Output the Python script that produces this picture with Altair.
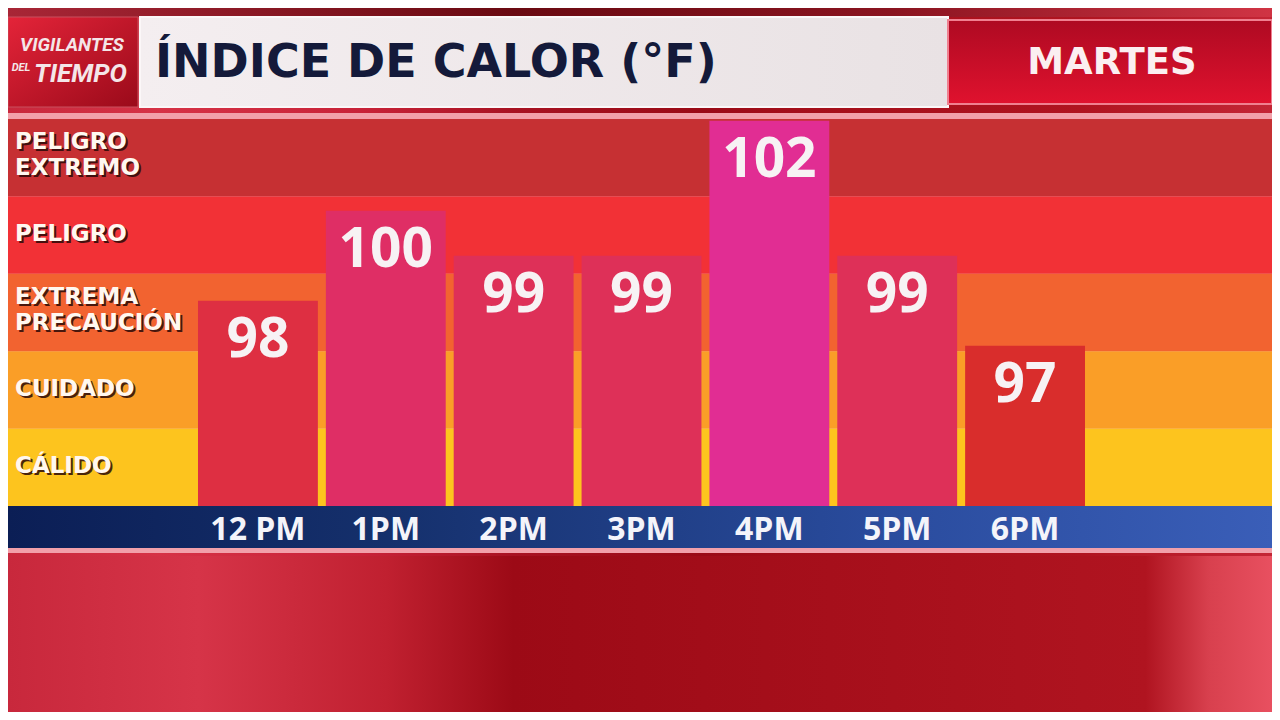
import altair as alt
import pandas as pd

# ---- data ----
hours = ["12 PM", "1PM", "2PM", "3PM", "4PM", "5PM", "6PM"]
values = [98, 100, 99, 99, 102, 99, 97]
categories = ["PELIGRO\nEXTREMO", "PELIGRO", "EXTREMA\nPRECAUCIÓN", "CUIDADO", "CÁLIDO"]
title_text = "ÍNDICE DE CALOR (°F)"
day_text = "MARTES"

# ---- styles ----
band_colors = ["#C63033", "#F23136", "#F26330", "#FA9E27", "#FDC41E"]
bar_color_domain = [97, 98, 99, 100, 102]
bar_color_range = ["#D92D2C", "#DE2F42", "#DE3058", "#DF2E65", "#E12D93"]
W, H = 1264, 387
Y_DOMAIN = [93.44, 102.04]
NUM_FONT = "Open Sans"
LBL_FONT = "DejaVu Sans"

bars_df = pd.DataFrame({"hour": hours, "value": values})
cats_df = pd.DataFrame({"cat": categories})
one = pd.DataFrame({"a": [0]})


def grad(stops, x1=0, y1=0, x2=1, y2=0):
    return {"gradient": "linear", "x1": x1, "y1": y1, "x2": x2, "y2": y2,
            "stops": [{"offset": o, "color": c} for o, c in stops]}


def box(x, x2, y, y2, **mk):
    return alt.Chart(one).mark_rect(**mk).encode(
        x=alt.value(x), x2=alt.value(x2), y=alt.value(y), y2=alt.value(y2))


def label(txt, x, y, **mk):
    return alt.Chart(one).mark_text(text=txt, **mk).encode(x=alt.value(x), y=alt.value(y))


# ---- background & header decorations ----
bg = box(0, W, -111, H + 206, color=grad([
    (0, "#C8283C"), (0.12, "#D63246"), (0.28, "#C82238"), (0.4, "#A81222"), (0.55, "#9A0A16"),
    (0.62, "#A40E1A"), (0.85, "#B01420"), (1, "#C42636")]))
bg_low = box(0, W, H + 50, H + 206, color=grad([
    (0, "#C8283C"), (0.15, "#D63448"), (0.3, "#C02030"), (0.4, "#9C0A16"),
    (0.6, "#A40E1A"), (0.9, "#B01420"), (0.95, "#D8404E"), (1, "#E85060")]))
top_strip = box(0, W, -111, -102, color=grad([
    (0, "#A82636"), (0.4, "#6A0A12"), (0.7, "#8A1420"), (1, "#D03444")]))
logo_box = box(0, 130, -102, -12, color=grad([(0, "#E42439"), (1, "#9A0A1A")], 0, 0, 1, 1),
               stroke="#C8505E", strokeWidth=1)
logo1 = label("VIGILANTES", 64, -74, font="Roboto", fontSize=19, fontWeight="bold",
              fontStyle="italic", color="#F4E6E8", align="center", baseline="middle")
logo2 = label("DEL", 13, -51, font="Roboto", fontSize=11, fontWeight="bold",
              fontStyle="italic", color="#F4E6E8", align="center", baseline="middle")
logo3 = label("TIEMPO", 26, -45, font="Roboto", fontSize=26, fontWeight="bold",
              fontStyle="italic", color="#F4E6E8", align="left", baseline="middle")
title_box = box(132, 940, -102, -12, color=grad([(0, "#F4EEF0"), (1, "#E9E2E4")]),
                stroke="#FBF7F8", strokeWidth=2)
title = label(title_text, 147, -56, font=LBL_FONT, fontSize=46, fontWeight="bold",
              color="#141A3A", align="left", baseline="middle")
day_box = box(940, W, -99, -15, color=grad([(0, "#AE0A22"), (1, "#E0122E")], 0, 0, 0, 1),
              stroke="#F08090", strokeWidth=2)
day = label(day_text, 1104, -56, font=LBL_FONT, fontSize=37, fontWeight="bold",
            color="#FBEFF1", align="center", baseline="middle")

panel_border = box(0, W, -6, H + 47, color="#F2A0AA")

# ---- category bands ----
band_y = alt.Y("cat:N", sort=categories, axis=None,
               scale=alt.Scale(domain=categories, paddingInner=0, paddingOuter=0))
bands = alt.Chart(cats_df).mark_rect().encode(
    y=band_y, x=alt.value(0), x2=alt.value(W),
    color=alt.Color("cat:N", scale=alt.Scale(domain=categories, range=band_colors), legend=None))


def band_label(color, shift, multi, **mk):
    cond = "indexof(datum.cat, '\\n') >= 0"
    return alt.Chart(cats_df).transform_filter(cond if multi else "!(" + cond + ")").mark_text(
        font=LBL_FONT, fontSize=23, fontWeight="bold", color=color,
        align="left", baseline="middle", lineBreak="\n", lineHeight=26,
        dx=shift, dy=shift + (-16 if multi else -1), **mk
    ).encode(y=band_y, x=alt.value(7), text="cat:N")


band_labels = [
    band_label("#2A0A08", 2, True, opacity=0.85),
    band_label("#2A0A08", 2, False, opacity=0.85),
    band_label("#FFF8F0", 0, True),
    band_label("#FFF8F0", 0, False),
]

# ---- axis bar ----
axis_bar = box(0, W, H, H + 42, color=grad([
    (0, "#0B1E55"), (0.3, "#15306C"), (0.7, "#2A4C9E"), (1, "#3A5EB8")]))

# ---- bars ----
x_enc = alt.X("hour:N", sort=hours, title=None,
              scale=alt.Scale(domain=hours, range=[186, 1081], paddingInner=0.0625, paddingOuter=0.03125),
              axis=alt.Axis(orient="bottom", domain=False, ticks=False, tickSize=0, labelAngle=0,
                            labelFont=NUM_FONT, labelFontSize=32, labelFontWeight="bold",
                            labelColor="#F4F4FA", labelPadding=23, labelBaseline="middle",
                            grid=False, zindex=2))
y_scale = alt.Scale(domain=Y_DOMAIN, zero=False, nice=False)
bars = alt.Chart(bars_df).mark_bar().encode(
    x=x_enc,
    y=alt.Y("value:Q", scale=y_scale, axis=None),
    y2=alt.datum(Y_DOMAIN[0]),
    color=alt.Color("value:O", scale=alt.Scale(domain=bar_color_domain, range=bar_color_range), legend=None))
vals = alt.Chart(bars_df).mark_text(
    font=NUM_FONT, fontSize=55, fontWeight="bold", color="#F7F2F4", baseline="middle", dy=39
).encode(x=x_enc, y=alt.Y("value:Q", scale=y_scale, axis=None), text="value:Q")

chart = alt.layer(
    bg, bg_low, top_strip, logo_box, logo1, logo2, logo3, title_box, title, day_box, day,
    panel_border, bands, *band_labels, axis_bar, bars, vals
).resolve_scale(y="independent", color="independent").properties(
    width=W, height=H,
    autosize=alt.AutoSizeParams(type="none"),
    padding={"left": 0, "top": 111, "right": 0, "bottom": 206},
    background="#B01828",
).configure_view(stroke=None)

chart.save("out.html", embed_options={"renderer": "svg", "actions": False})
